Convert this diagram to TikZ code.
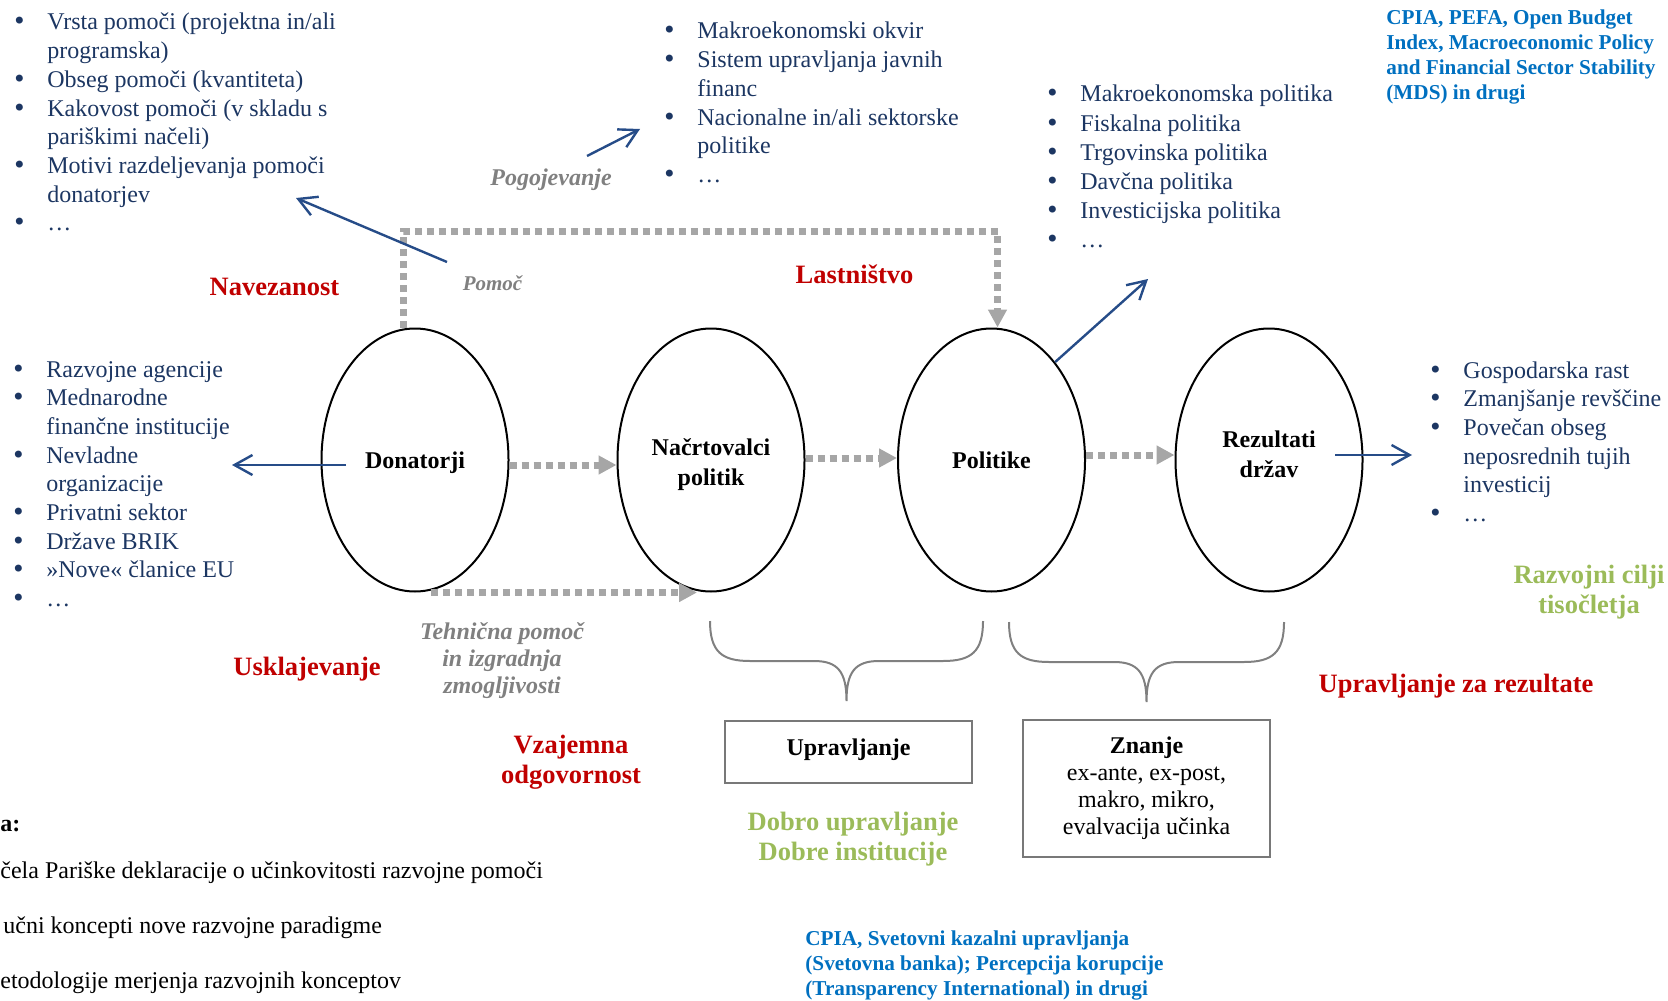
\documentclass[tikz,border=0pt]{standalone}
\usepackage{fontspec}
\setmainfont{Liberation Serif}
\newfontfamily\bulletfont{DejaVu Sans}
\usetikzlibrary{arrows.meta,shapes.geometric,calc}

\definecolor{navy}{RGB}{28,54,98}
\definecolor{arrowblue}{RGB}{38,76,136}
\definecolor{darkred}{RGB}{192,0,0}
\definecolor{olive}{RGB}{155,187,89}
\definecolor{cpia}{RGB}{0,112,192}
\definecolor{dotgray}{RGB}{166,166,166}
\definecolor{labgray}{RGB}{128,128,128}
\definecolor{boxgray}{RGB}{120,120,120}

% bullet lists: a bullet set in a fixed-width box, continuation lines indented
\newlength\bind \setlength\bind{17.5pt}
\newcommand\bu{\makebox[\bind][l]{{\bulletfont •}}}
\newcommand\cont{\hspace*{\bind}}
\newcommand\txtrows[2][l]{\begin{tabular}[t]{@{}#1@{}}#2\end{tabular}}

\begin{document}
\begin{tikzpicture}[x=0.5pt,y=-0.5pt,
  listtxt/.style={anchor=base west, inner sep=0, text=navy, font=\fontsize{12}{14.35}\selectfont},
  stage/.style={draw, line width=1pt, ellipse, minimum width=93.5pt, minimum height=131.5pt,
    inner sep=0, font=\bfseries\fontsize{12}{15.25}\selectfont},
  flow/.style={draw=dotgray, line width=3.5pt, dash pattern=on 3.5pt off 2.5pt,
    -{Triangle[length=9pt,width=9pt,fill=dotgray]}},
  link/.style={draw=arrowblue, line width=1.2pt, -{Straight Barb[length=9pt,width=10pt]}},
  concept/.style={text=darkred, font=\bfseries\fontsize{13.25}{15}\selectfont, inner sep=0, anchor=base},
  goal/.style={text=olive, font=\bfseries\fontsize{13.25}{15.4}\selectfont, inner sep=0, anchor=base},
  index/.style={text=cpia, font=\bfseries\fontsize{10.6}{12.4}\selectfont, inner sep=0, anchor=base west},
  channel/.style={text=labgray, font=\bfseries\itshape\fontsize{12}{13.5}\selectfont, inner sep=0, anchor=base},
  brace/.style={draw=labgray, line width=1pt},
  panel/.style={draw=boxgray, line width=1pt, minimum width=123.5pt, inner sep=0,
    font=\fontsize{12}{13.6}\selectfont},
  legendtxt/.style={anchor=base west, inner sep=0, font=\fontsize{12}{14}\selectfont}]

\useasboundingbox (0,0) rectangle (1668,1000);

% ---- the four stages ----
\node[stage, text height=8pt, text depth=0pt] (don) at (415,460) {Donatorji};
\node[stage, text height=10.7pt, text depth=15.7pt] (nac) at (711,460) {\txtrows[c]{Načrtovalci\\politik}};
\node[stage, text height=8pt, text depth=0pt] (pol) at (991.5,460) {Politike};
\node[stage, text height=10.7pt, text depth=23.7pt] (rez) at (1269,460) {\txtrows[c]{Rezultati\\držav}};

% ---- dotted flows between the stages ----
\draw[flow] ([yshift=-2.5pt]don.east) -- ([yshift=-2.5pt]nac.west);
\draw[flow] ([yshift=1pt]nac.east) -- ([yshift=1pt]pol.west);
\draw[flow] ([yshift=2.5pt]pol.east) -- ([yshift=2.5pt]rez.west);
\coordinate (loopL) at (403,231);
\coordinate (loopR) at (997.5,231);
\draw[flow] ([xshift=-6pt]don.north) -- (loopL) -- (loopR) -- ([xshift=3pt]pol.north);
\draw[flow] ([xshift=8pt]don.south) -- ([xshift=-7pt]nac.south);

% ---- lists of contents ----
\node[listtxt] (aidlist) at (12,30) {\txtrows{%
  \bu Vrsta pomoči (projektna in/ali\\
  \cont programska)\\
  \bu Obseg pomoči (kvantiteta)\\
  \bu Kakovost pomoči (v skladu s\\
  \cont pariškimi načeli)\\
  \bu Motivi razdeljevanja pomoči\\
  \cont donatorjev\\
  \bu …}};
\node[listtxt] (condlist) at (662,39) {\txtrows{%
  \bu Makroekonomski okvir\\
  \bu Sistem upravljanja javnih\\
  \cont financ\\
  \bu Nacionalne in/ali sektorske\\
  \cont politike\\
  \bu …}};
\node[listtxt, font=\fontsize{12}{14.6}\selectfont] (pollist) at (1045,102) {\txtrows{%
  \bu Makroekonomska politika\\
  \bu Fiskalna politika\\
  \bu Trgovinska politika\\
  \bu Davčna politika\\
  \bu Investicijska politika\\
  \bu …}};
\node[listtxt] (donlist) at (11,377) {\txtrows{%
  \bu Razvojne agencije\\
  \bu Mednarodne\\
  \cont finančne institucije\\
  \bu Nevladne\\
  \cont organizacije\\
  \bu Privatni sektor\\
  \bu Države BRIK\\
  \bu »Nove« članice EU\\
  \bu …}};
\node[listtxt] (reslist) at (1428,378) {\txtrows{%
  \bu Gospodarska rast\\
  \bu Zmanjšanje revščine\\
  \bu Povečan obseg\\
  \cont neposrednih tujih\\
  \cont investicij\\
  \bu …}};

% ---- blue arrows towards the lists ----
\coordinate (pomS) at (447,262);
\coordinate (pomT) at (296,198);
\draw[link] (pomS) -- (pomT);
\coordinate (pogS) at (587,156);
\coordinate (pogT) at (640,129);
\draw[link] (pogS) -- (pogT);
\coordinate (polT) at (1148,279);
\draw[link] (pol.57) -- (polT);
\coordinate (donT) at (232,465);
\draw[link] ($(don.center)+(-69,5)$) -- (donT);
\coordinate (rezT) at (1412,455);
\draw[link] ($(rez.center)+(66,-5)$) -- (rezT);

% ---- channel labels ----
\node[channel] (pog) at (551,185) {Pogojevanje};
\node[channel, font=\bfseries\itshape\fontsize{10.5}{12}\selectfont] (pom) at (492.5,290) {Pomoč};
\node[channel] (teh) at (502,639) {\txtrows[c]{Tehnična pomoč\\in izgradnja\\zmogljivosti}};

% ---- key concepts ----
\node[concept] (nav) at (274.5,295) {Navezanost};
\node[concept] (las) at (854.5,283) {Lastništvo};
\node[concept] (usk) at (307,675) {Usklajevanje};
\node[concept] (vza) at (571,753) {\txtrows[c]{Vzajemna\\odgovornost}};
\node[concept] (uzr) at (1456,692) {Upravljanje za rezultate};

% ---- braces and boxes below ----
\draw[brace] (710,621) .. controls (710,652) and (722,661) .. (750,661) -- (814,661)
  .. controls (838,661) and (846.5,672) .. (846.5,701)
  .. controls (846.5,672) and (855,661) .. (879,661) -- (943,661)
  .. controls (971,661) and (983,652) .. (983,621);
\draw[brace] (1009,622) .. controls (1009,653) and (1021,662) .. (1049,662) -- (1114,662)
  .. controls (1138,662) and (1146.5,673) .. (1146.5,702)
  .. controls (1146.5,673) and (1155,662) .. (1179,662) -- (1244,662)
  .. controls (1272,662) and (1284,653) .. (1284,622);

\node[panel, minimum height=31pt, text height=7pt, text depth=4pt] (upr) at (848.5,752) {\textbf{Upravljanje}};
\node[panel, minimum height=68.5pt, text height=9.5pt, text depth=44.9pt] (zna) at (1146.5,788.5)
  {\txtrows[c]{\textbf{Znanje}\\ex-ante, ex-post,\\makro, mikro,\\evalvacija učinka}};

% ---- goals and indicators ----
\node[goal] (dob) at (853,830) {\txtrows[c]{Dobro upravljanje\\Dobre institucije}};
\node[goal, font=\bfseries\fontsize{13.25}{15}\selectfont] (rct) at (1589,583) {\txtrows[c]{Razvojni cilji\\tisočletja}};
\node[index] (cpiatop) at (1386,25) {\txtrows{CPIA, PEFA, Open Budget\\Index, Macroeconomic Policy\\and Financial Sector Stability\\(MDS) in drugi}};
\node[index, font=\bfseries\fontsize{10.6}{12.5}\selectfont] (cpiabot) at (805,945) {\txtrows{CPIA, Svetovni kazalni upravljanja\\(Svetovna banka); Percepcija korupcije\\(Transparency International) in drugi}};

% ---- legend along the left edge ----
\node[legendtxt, font=\bfseries\fontsize{12}{14}\selectfont] (leghead) at (0,831) {a:};
\node[legendtxt] (leg1) at (0,878) {čela Pariške deklaracije o učinkovitosti razvojne pomoči};
\node[legendtxt] (leg2) at (3,933) {učni koncepti nove razvojne paradigme};
\node[legendtxt] (leg3) at (0,988) {etodologije merjenja razvojnih konceptov};
\end{tikzpicture}
\end{document}
